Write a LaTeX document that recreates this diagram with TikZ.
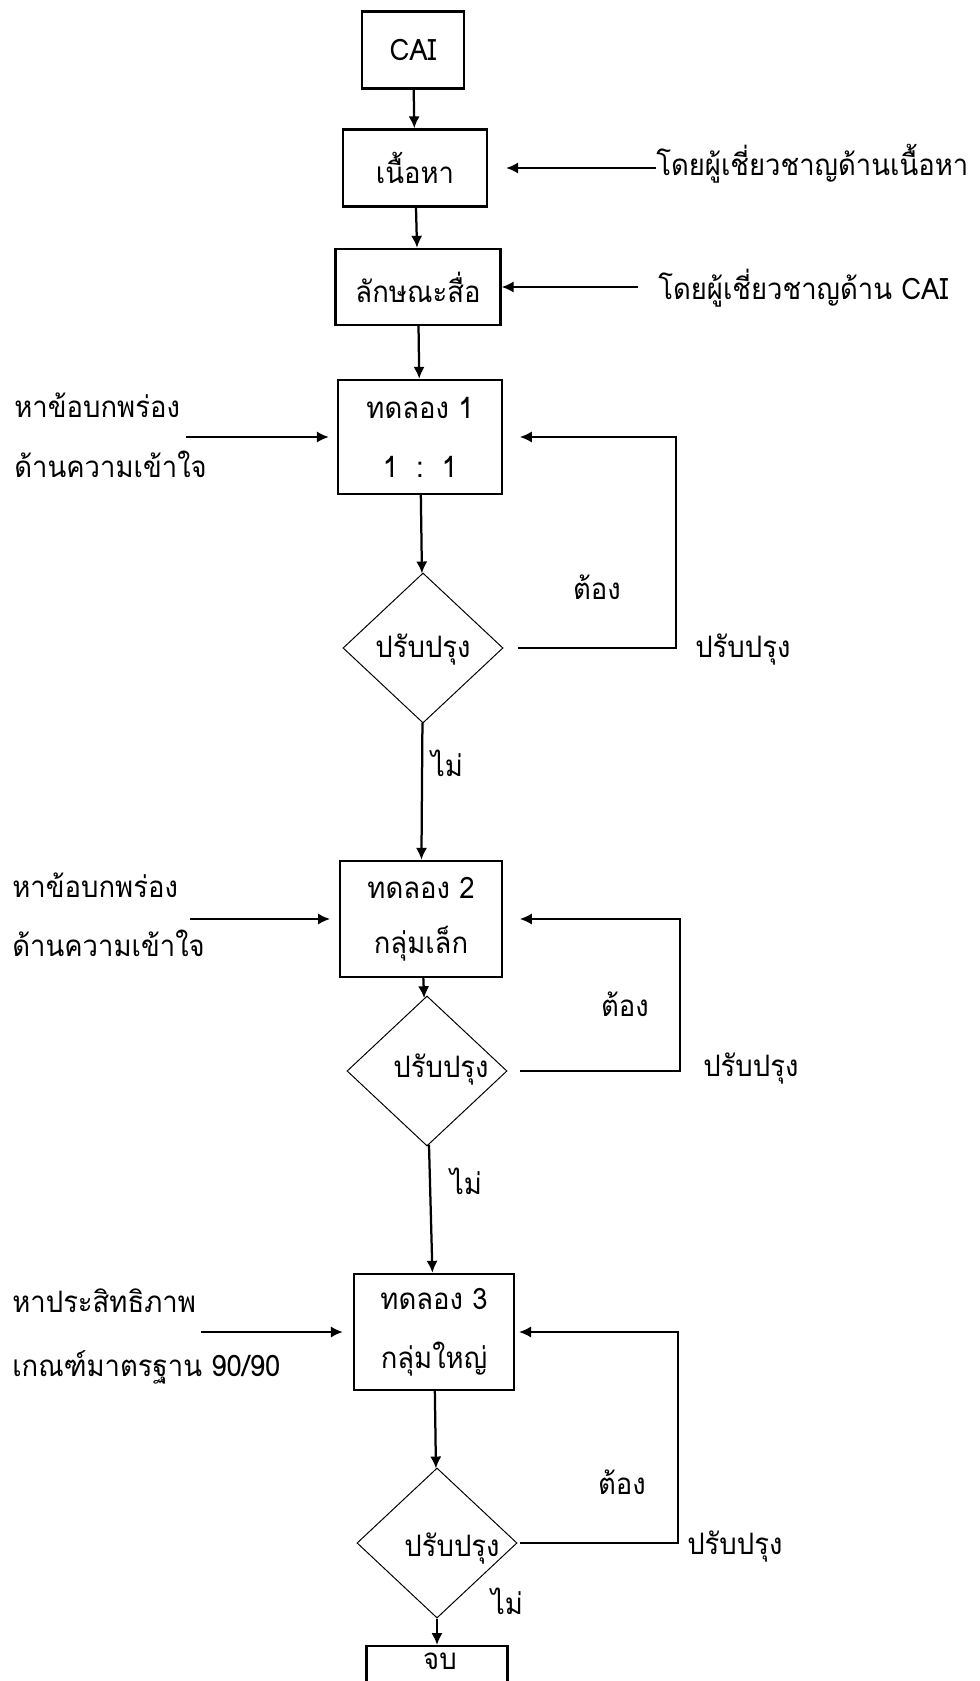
\documentclass[tikz,border=0pt]{standalone}
\usepackage{fontspec}
\setmainfont[Script=Thai,FakeStretch=0.93]{Loma}
\usetikzlibrary{arrows.meta,positioning,shapes.geometric,calc}

\begin{document}
\begin{tikzpicture}[x=0.025cm,y=-0.025cm,>={Latex[length=8.5pt,width=8pt]},
  every node/.style={font=\fontsize{21}{25}\selectfont},
  box/.style={draw,line width=1.7pt,inner sep=0pt,align=center,minimum height=1.925cm},
  trial/.style={box,minimum width=4.1cm,minimum height=2.9cm},
  decide/.style={diamond,draw,line width=0.7pt,inner sep=0pt,minimum width=4cm,minimum height=3.75cm},
  txt/.style={inner sep=0pt},
  flow/.style={->,line width=1.6pt},
  side/.style={->,line width=1.3pt},
  back/.style={->,line width=0.9pt}]

\useasboundingbox (0,0) rectangle (979,1681);
\clip (0,0) rectangle (979,1681);

% main column
\node[box,minimum width=2.55cm] (cai) at (413,50) {CAI};
\node[box,minimum width=3.6cm] (content) at (415,168) {เนื้อหา};
\node[box,minimum width=4.125cm,minimum height=1.9cm] (media) at (418,287) {ลักษณะสื่อ};
\node[trial,minimum height=2.85cm] (try1) at (420,437) {ทดลอง 1\\[6mm]1\hspace{4.5mm}:\hspace{4.5mm}1};
\node[decide] (chk1) at (423,648) {};
\node[trial,minimum width=4.05cm] (try2) at (421,919) {ทดลอง 2\\[5mm]กลุ่มเล็ก};
\node[decide] (chk2) at (427,1071) {};
\node[trial,minimum width=4cm] (try3) at (434,1332) {ทดลอง 3\\[6mm]กลุ่มใหญ่};
\node[decide] (chk3) at (437,1543) {};
\node[box,anchor=north,minimum width=3.525cm] (stop) at (437,1645) {};

\node[txt,anchor=base] (chk1t) at (423,657) {ปรับปรุง};
\node[txt,anchor=base] (chk2t) at (441,1077) {ปรับปรุง};
\node[txt,anchor=base] (chk3t) at (452,1556) {ปรับปรุง};
\node[txt,anchor=base] (stopt) at (440,1669) {จบ};

\draw[flow] (cai) -- (content);
\draw[flow] (content) -- (media);
\draw[flow] (media) -- (try1);
\draw[flow] (try1) -- (chk1);
\draw[flow] (chk1) -- (try2);
\draw[flow] (try2) -- (chk2);
\draw[flow] (chk2) -- (try3);
\draw[flow] (try3) -- (chk3);
\draw[flow] (chk3) -- (stop);

% experts on the right
\node[txt,anchor=base west] (bycontent) at (656,176) {โดยผู้เชี่ยวชาญด้านเนื้อหา};
\node[txt,anchor=base west] (bycai) at (658,299) {โดยผู้เชี่ยวชาญด้าน CAI};
\draw[side,shorten >=0.45cm] (bycontent.west |- content) -- (content);
\draw[side,shorten <=0.5cm] (bycai.west |- media) -- (media);

% inputs on the left
\node[txt,anchor=base west] (gap1a) at (14,417) {หาข้อบกพร่อง};
\node[txt,anchor=base west] (gap1b) at (14,477) {ด้านความเข้าใจ};
\node[txt,anchor=base west] (gap2a) at (12,897) {หาข้อบกพร่อง};
\node[txt,anchor=base west] (gap2b) at (12,956) {ด้านความเข้าใจ};
\node[txt,anchor=base west] (eff3a) at (12,1312) {หาประสิทธิภาพ};
\node[txt,anchor=base west] (eff3b) at (12,1376) {เกณฑ์มาตรฐาน 90/90};
\coordinate (in1) at (186,437);
\coordinate (in2) at (190,919);
\coordinate (in3) at (201,1332);
\draw[side,shorten >=0.2cm] (in1) -- (try1);
\draw[side,shorten >=0.22cm] (in2) -- (try2);
\draw[side,shorten >=0.25cm] (in3) -- (try3);

% loops back
\coordinate (back1) at (676,648);
\coordinate (back2) at (680,1071);
\coordinate (back3) at (678,1543);
\draw[back,shorten <=0.35cm,shorten >=0.42cm] (chk1) -- (back1) |- (try1);
\draw[back,shorten <=0.3cm,shorten >=0.42cm] (chk2) -- (back2) |- (try2);
\draw[back,shorten <=0.05cm,shorten >=0.1cm] (chk3) -- (back3) |- (try3);

\node[txt,anchor=base] (need1) at (597,599) {ต้อง};
\node[txt,anchor=base west] (fix1) at (695,657) {ปรับปรุง};
\node[txt,anchor=base] (no1) at (447,776) {ไม่};
\node[txt,anchor=base] (need2) at (625,1016) {ต้อง};
\node[txt,anchor=base west] (fix2) at (703,1076) {ปรับปรุง};
\node[txt,anchor=base] (no2) at (466,1194) {ไม่};
\node[txt,anchor=base] (need3) at (622,1494) {ต้อง};
\node[txt,anchor=base west] (fix3) at (687,1554) {ปรับปรุง};
\node[txt,anchor=base] (no3) at (507,1614) {ไม่};
\end{tikzpicture}
\end{document}
